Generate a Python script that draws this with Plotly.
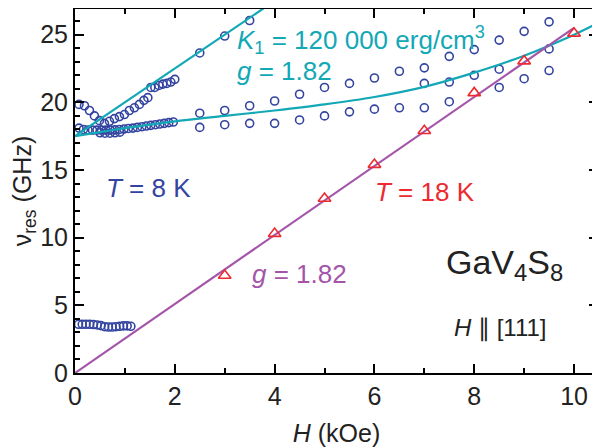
import plotly.graph_objects as go

# ---- data ----
# T = 8 K, blue circles
H_low = [0.07,0.145,0.22,0.295,0.37,0.445,0.52,0.595,0.67,0.745,0.82,0.895,0.97,1.045,1.12]
v_low = [3.6,3.6,3.6,3.6,3.58,3.55,3.5,3.42,3.4,3.4,3.42,3.45,3.48,3.48,3.45]

H_up = [0.08,0.19,0.29,0.39,0.49,0.59,0.69,0.79,0.89,0.99,1.09,1.19,1.29,1.38,1.46,1.52,1.6,1.68,1.76,1.84,1.92,2.0,2.5,3.0,3.5]
v_up = [19.85,19.75,19.4,19.0,18.65,18.45,18.6,18.8,18.95,19.1,19.4,19.6,19.85,20.15,20.35,21.1,21.1,21.25,21.35,21.4,21.5,21.7,23.65,24.9,26.05]

H_mid = [0.08,0.17,0.26,0.35,0.44,0.53,0.62,0.71,0.8,0.89,0.98,1.07,1.16,1.25,1.34,1.43,1.52,1.61,1.7,1.79,1.88,1.97]
v_mid = [18.1,18.0,17.95,17.95,17.95,17.95,17.95,17.95,17.97,18.0,18.03,18.07,18.1,18.15,18.2,18.25,18.3,18.35,18.4,18.45,18.5,18.55]
H_mid2 = [0.5,0.6,0.7,0.8,0.9]
v_mid2 = [17.75,17.72,17.72,17.75,17.8]

H_rowA = [2.5,3,3.5,4,4.5,5,5.5,6,6.5,7,7.5,8,8.5,9,9.5]
v_rowA = [19.2,19.4,19.75,20.1,20.6,21.1,21.4,21.8,22.3,22.55,23.4,23.9,24.6,25.25,25.95]
H_rowB = [2.5,3,3.5,4,4.5,5,5.5,6,6.5,7,7.5,8.5,9,9.5]
v_rowB = [18.15,18.35,18.45,18.45,18.7,19.0,19.3,19.5,19.6,19.6,20.05,21.1,21.75,22.35]
H_rowC = [7,7.5,8,8.5,9.5]
v_rowC = [21.4,21.5,22.0,22.45,23.95]

# T = 18 K, red triangles
H_18 = [3,4,5,6,7,8,9,10]
v_18 = [7.2,10.3,12.9,15.4,17.9,20.7,23.05,25.1]

# g = 1.82 line (purple)
H_g = [0,10]
v_g = [0,25.5]

# K1 fits (cyan)
H_c1 = [0,3.8]
v_c1 = [17.5,27.0]
H_c2 = [0,0.5,1,1.5,2,3,4,5,6,7,8,9,10,10.5]
v_c2 = [17.5,17.8,18.1,18.35,18.6,19.0,19.4,19.85,20.4,21.15,22.2,23.45,25.0,25.9]

BLUE = "#3344A0"
CYAN = "#12A8B6"
PURPLE = "#A455AA"
RED = "#EC2A30"
DARK = "#222222"
FONT = "Liberation Sans, Arial, sans-serif"

fig = go.Figure()

circ = dict(symbol="circle-open", size=8, color=BLUE, line=dict(width=1.6, color=BLUE))
for hx, vy in [(H_low, v_low), (H_up, v_up), (H_mid, v_mid), (H_mid2, v_mid2),
               (H_rowA, v_rowA), (H_rowB, v_rowB), (H_rowC, v_rowC)]:
    fig.add_trace(go.Scatter(x=hx, y=vy, mode="markers", marker=circ, showlegend=False))

fig.add_trace(go.Scatter(x=H_c1, y=v_c1, mode="lines", line=dict(color=CYAN, width=2.2), showlegend=False))
fig.add_trace(go.Scatter(x=H_c2, y=v_c2, mode="lines", line=dict(color=CYAN, width=2.2, shape="spline"), showlegend=False))
fig.add_trace(go.Scatter(x=H_g, y=v_g, mode="lines", line=dict(color=PURPLE, width=2.2), showlegend=False))
fig.add_trace(go.Scatter(x=H_18, y=v_18, mode="markers",
                         marker=dict(symbol="triangle-up-open", size=11, color=RED, line=dict(width=1.6, color=RED)),
                         showlegend=False))

def txt(x, y, s, color, size=26, anchor="left"):
    fig.add_annotation(x=x, y=y, xref="x", yref="y", text=s, showarrow=False,
                       xanchor=anchor, yanchor="middle",
                       font=dict(family=FONT, size=size, color=color))

txt(3.2, 24.6, "<i>K</i><sub>1</sub> = 120 000 erg/cm<sup>3</sup>", CYAN)
txt(3.2, 22.3, "<i>g</i> = 1.82", CYAN)
txt(0.58, 13.7, "<i>T</i> = 8 K", BLUE)
txt(5.98, 13.4, "<i>T</i> = 18 K", RED)
txt(3.5, 7.3, "<i>g</i> = 1.82", PURPLE)
txt(7.4, 8.0, "GaV<sub>4</sub>S<sub>8</sub>", DARK, size=34)
txt(7.55, 3.3, "<i>H</i> ∥ [111]", DARK, size=24)

axis_common = dict(showline=True, linewidth=2, linecolor="black", mirror="allticks",
                   ticks="inside", ticklen=9, tickwidth=2, tickcolor="black",
                   showgrid=False, zeroline=False, automargin=False,
                   tickfont=dict(family=FONT, size=25, color=DARK))

fig.update_xaxes(range=[0, 10.48], dtick=2, tick0=0,
                 minor=dict(dtick=1, ticks="inside", ticklen=5, tickwidth=2, tickcolor="black"),
                 title=dict(text="<i>H</i> (kOe)", font=dict(family=FONT, size=25, color=DARK)),
                 **axis_common)
fig.update_yaxes(range=[0, 26.9], dtick=5, tick0=0,
                 minor=dict(dtick=1, ticks="inside", ticklen=5, tickwidth=2, tickcolor="black"),
                 title=dict(text="ν<sub>res</sub> (GHz)", font=dict(family=FONT, size=25, color=DARK)),
                 **axis_common)

# page body has an 8 px margin, so the plot area is shifted to land at
# x 75..598, y 9..373 in the 600x448 window
fig.update_layout(width=600, height=448, margin=dict(l=67, r=10, t=1, b=83),
                  plot_bgcolor="white", paper_bgcolor="white")

fig.write_html("out.html")
